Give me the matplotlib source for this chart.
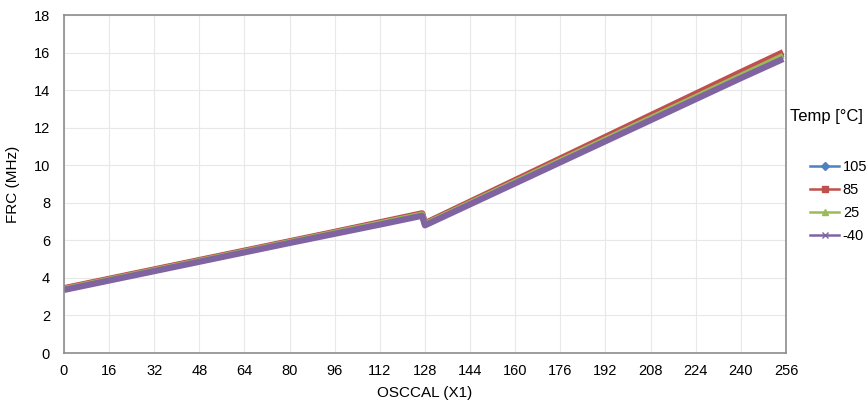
import matplotlib.pyplot as plt
from matplotlib.lines import Line2D

plt.rcParams['font.family'] = ['Liberation Sans', 'DejaVu Sans']

#DATA
osccal = [0, 16, 32, 48, 64, 80, 96, 112, 127, 128, 144, 160, 176, 192, 208, 224, 240, 255]
frc_105 = [3.42, 3.92, 4.42, 4.92, 5.42, 5.92, 6.42, 6.92, 7.40, 6.88, 8.02, 9.16, 10.30, 11.44, 12.58, 13.72, 14.86, 15.92]
frc_85 = [3.45, 3.95, 4.45, 4.95, 5.45, 5.95, 6.45, 6.96, 7.44, 6.91, 8.06, 9.21, 10.36, 11.51, 12.66, 13.81, 14.96, 16.02]
frc_25 = [3.40, 3.90, 4.40, 4.90, 5.40, 5.90, 6.40, 6.90, 7.37, 6.85, 7.98, 9.11, 10.24, 11.37, 12.50, 13.63, 14.76, 15.82]
frc_m40 = [3.36, 3.86, 4.36, 4.86, 5.36, 5.86, 6.35, 6.84, 7.31, 6.80, 7.92, 9.04, 10.16, 11.28, 12.40, 13.52, 14.64, 15.66]
temps = ["105", "85", "25", "-40"]
colors = ["#4F81BD", "#C0504D", "#9BBB59", "#8064A2"]
markers = ["D", "s", "^", "x"]
x_ticks = list(range(0, 257, 16))
y_ticks = list(range(0, 19, 2))

fig = plt.figure(figsize=(8.68, 4.08), dpi=100)
ax = fig.add_axes([0.0737, 0.1348, 0.8318, 0.8284])

for vals, c in zip([frc_105, frc_85, frc_25, frc_m40], colors):
    ax.plot(osccal, vals, color=c, linewidth=4.5, solid_capstyle="butt")

ax.set_xlim(0, 256)
ax.set_ylim(0, 18)
ax.set_xticks(x_ticks)
ax.set_yticks(y_ticks)
ax.tick_params(length=0, labelsize=10.5)
ax.tick_params(axis="x", pad=8)
ax.tick_params(axis="y", pad=10)
ax.grid(True, color="#e8e8e8", linewidth=0.8)
ax.set_axisbelow(True)
for s in ax.spines.values():
    s.set_color("#8c8c8c")
    s.set_linewidth(1.2)

ax.set_xlabel("OSCCAL (X1)", fontsize=11, labelpad=6)
ax.set_ylabel("FRC (MHz)", fontsize=11, labelpad=10)

#legend on the right
handles = [Line2D([0], [0], color=c, marker=m, markersize=4.5 if m != "x" else 4,
                  linewidth=1.8) for c, m in zip(colors, markers)]
fig.text(790 / 868, 1 - 117 / 408, "Temp [°C]", fontsize=12, va="center", ha="left")
fig.legend(handles, temps, loc="upper left", bbox_to_anchor=(810 / 868, 1 - 160 / 408),
           frameon=False, fontsize=10.5, handlelength=2.0, handletextpad=0.25,
           labelspacing=0.62, borderaxespad=0, borderpad=0)

fig.savefig("out.png", dpi=100)
